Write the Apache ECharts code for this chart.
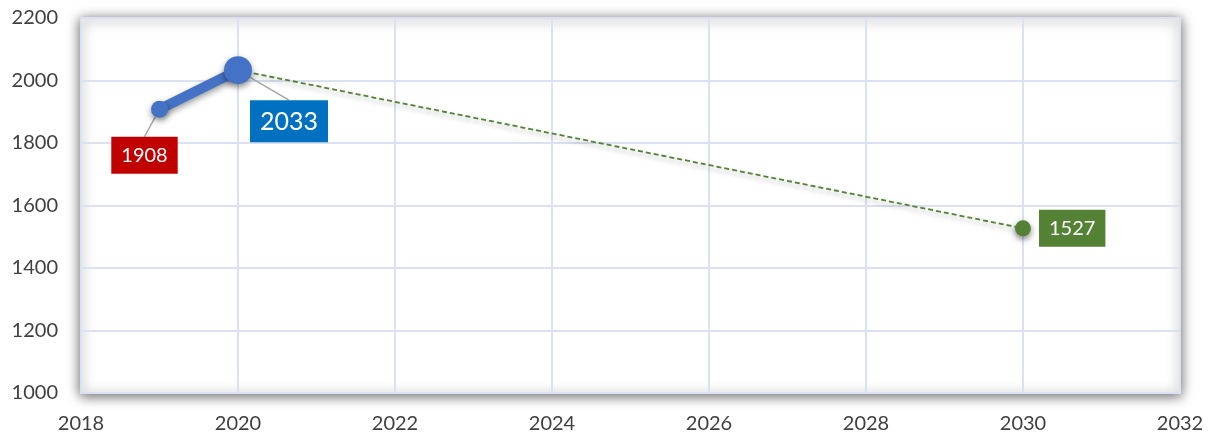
<!DOCTYPE html>
<html>
<head>
<meta charset="utf-8">
<script src="https://cdn.jsdelivr.net/npm/echarts@6/dist/echarts.min.js"></script>
<style>
html,body{margin:0;padding:0;background:#fff;}
#chart{width:1213px;height:434px;}
</style>
</head>
<body>
<div id="chart"></div>
<script>
const actualYears = [2019, 2020];
const actualValues = [1908, 2033];
const projectionYears = [2020, 2030];
const projectionValues = [2033, 1527];
const xMin = 2018, xMax = 2032, xStep = 2;
const yMin = 1000, yMax = 2200, yStep = 200;

const chart = echarts.init(document.getElementById('chart'), null, {renderer: 'canvas'});
const font = 'Lato, "Open Sans", sans-serif';

const actualData = actualYears.map((y, i) => [y, actualValues[i]]);
const projData = projectionYears.map((y, i) => [y, projectionValues[i]]);

chart.setOption({
  animation: false,
  backgroundColor: '#ffffff',
  grid: {
    left: 81, right: 33, top: 18, bottom: 41,
    show: true,
    backgroundColor: '#ffffff',
    borderColor: '#d9e1f2',
    borderWidth: 2,
    shadowColor: 'rgba(0,0,0,0.6)',
    shadowBlur: 12,
    shadowOffsetX: 0,
    shadowOffsetY: 2
  },
  xAxis: {
    type: 'value', min: xMin, max: xMax, interval: xStep,
    axisLine: {show: false}, axisTick: {show: false},
    axisLabel: {color: '#404040', fontSize: 20, fontFamily: font, margin: 21, formatter: v => String(v)},
    splitLine: {show: true, lineStyle: {color: '#d9e1f2', width: 2}}
  },
  yAxis: {
    type: 'value', min: yMin, max: yMax, interval: yStep,
    axisLine: {show: false}, axisTick: {show: false},
    axisLabel: {color: '#404040', fontSize: 20, fontFamily: font, margin: 23, formatter: v => String(v)},
    splitLine: {show: true, lineStyle: {color: '#d9e1f2', width: 2}}
  },
  series: [
    {
      type: 'line',
      z: 2,
      symbol: 'circle',
      symbolSize: (v, p) => p.dataIndex === 1 ? 16 : 0,
      showAllSymbol: true,
      itemStyle: {color: '#548235', shadowColor: 'rgba(0,0,0,0.5)', shadowBlur: 6, shadowOffsetY: 3},
      lineStyle: {color: '#548235', width: 1.8, type: [5, 3], shadowColor: 'rgba(0,0,0,0.35)', shadowBlur: 5, shadowOffsetY: 3},
      data: projData.map((d, i) => ({
        value: d,
        label: {
          show: i === 1,
          position: 'right',
          distance: 8,
          formatter: p => String(p.value[1]),
          color: '#ffffff',
          fontSize: 20,
          fontFamily: font,
          backgroundColor: '#548235',
          padding: [9, 10, 8, 10]
        }
      }))
    },
    {
      type: 'line',
      z: 3,
      symbol: 'circle',
      symbolSize: (v, p) => p.dataIndex === 1 ? 28 : 17,
      itemStyle: {color: '#4472c4', shadowColor: 'rgba(0,0,0,0.45)', shadowBlur: 6, shadowOffsetY: 3},
      lineStyle: {color: '#4472c4', width: 10, shadowColor: 'rgba(0,0,0,0.4)', shadowBlur: 6, shadowOffsetY: 3},
      label: {
        show: true,
        position: 'inside',
        color: '#ffffff',
        fontFamily: font
      },
      labelLine: {show: true, lineStyle: {color: '#a6a6a6', width: 1.5}},
      labelLayout: function (p) {
        if (p.dataIndex === 0) return {dx: -15, dy: 46};
        return {dx: 51, dy: 51};
      },
      data: actualData.map((d, i) => ({
        value: d,
        label: i === 0
          ? {formatter: p => String(p.value[1]), backgroundColor: '#c00000', fontSize: 20, padding: [9, 10, 8, 10]}
          : {
              formatter: p => '{b|' + p.value[1] + '}',
              backgroundColor: 'rgba(255,255,255,0)',
              padding: [0, 60, 0, 60],
              rich: {b: {color: '#ffffff', fontFamily: font, fontSize: 25, backgroundColor: '#0070c0', padding: [9, 10, 8, 10]}}
            }
      }))
    }
  ]
});
</script>
</body>
</html>
